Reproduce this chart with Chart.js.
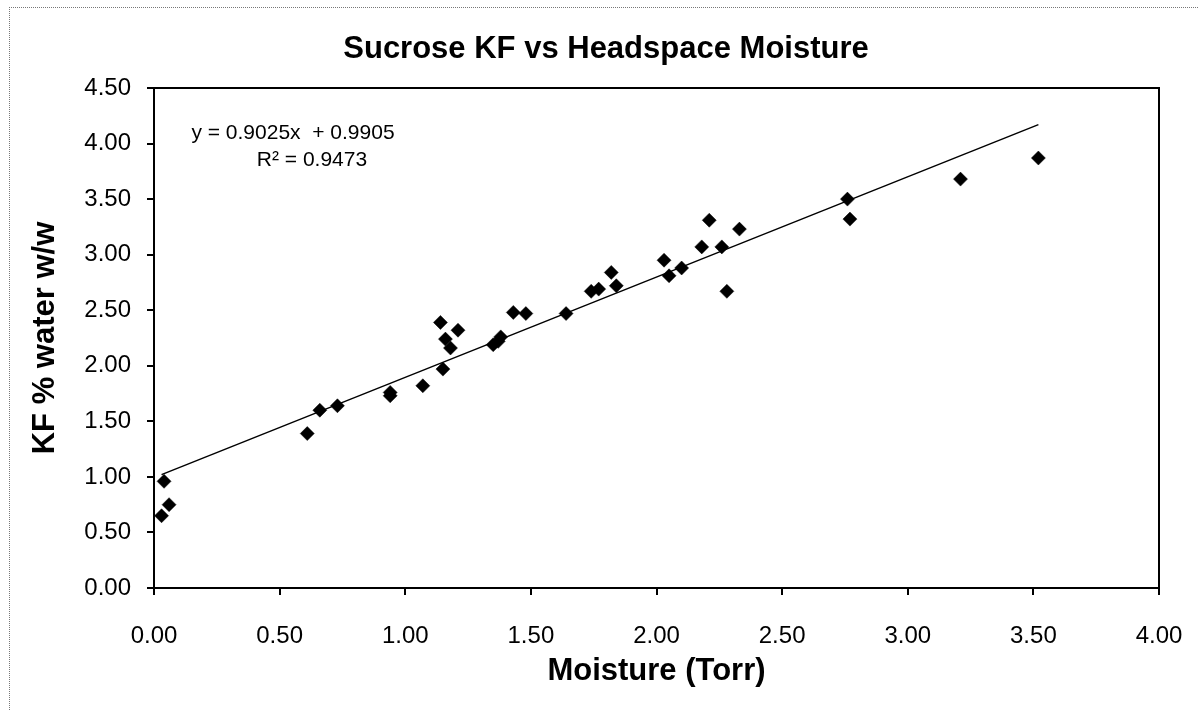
<!DOCTYPE html>
<html>
<head>
<meta charset="utf-8">
<script src="https://cdn.jsdelivr.net/npm/chart.js@4"></script>
<style>
  html, body { margin: 0; padding: 0; background: #fff; overflow: hidden; }
  #frame {
    position: absolute; left: 9px; top: 7px; width: 1300px; height: 800px;
    border-left: 1px dotted #777; border-top: 1px dotted #777;
  }
  #wrap { position: absolute; left: 0; top: 0; width: 1198px; height: 711px; }
</style>
</head>
<body>
<div id="frame"></div>
<div id="wrap"><canvas id="grafica"></canvas></div>
<script>
/* datos */
const moisture = [0.03, 0.04, 0.06, 0.61, 0.66, 0.73, 0.94, 0.94, 1.07, 1.15,
                  1.14, 1.16, 1.18, 1.21, 1.35, 1.37, 1.38, 1.43, 1.48, 1.64,
                  1.74, 1.77, 1.82, 1.84, 2.03, 2.05, 2.10, 2.18, 2.21, 2.26,
                  2.28, 2.33, 2.76, 2.77, 3.21, 3.52];
const kfWater  = [0.65, 0.96, 0.75, 1.39, 1.60, 1.64, 1.76, 1.73, 1.82, 1.97,
                  2.39, 2.24, 2.16, 2.32, 2.19, 2.22, 2.26, 2.48, 2.47, 2.47,
                  2.67, 2.69, 2.84, 2.72, 2.95, 2.81, 2.88, 3.07, 3.31, 3.07,
                  2.67, 3.23, 3.50, 3.32, 3.68, 3.87];
const trendX = [0.03, 3.52];
const trendY = [1.02, 4.17];
const xTicks = [0, 0.5, 1, 1.5, 2, 2.5, 3, 3.5, 4];
const yTicks = [0, 0.5, 1, 1.5, 2, 2.5, 3, 3.5, 4, 4.5];
const chartTitle = 'Sucrose KF vs Headspace Moisture';
const equationLines = ['y = 0.9025x  + 0.9905', 'R\u00b2 = 0.9473'];

const FONT = '"Liberation Sans", Arial, sans-serif';

// título, marco negro del área de trazado y ecuación
const marco = {
    id: 'marco',
    afterDraw(chart) {
        const { ctx, chartArea: a } = chart;
        ctx.save();
        ctx.strokeStyle = '#000';
        ctx.lineWidth = 2;
        ctx.beginPath();
        ctx.moveTo(a.left, a.top);
        ctx.lineTo(a.right, a.top);
        ctx.lineTo(a.right, a.bottom);
        ctx.stroke();

        ctx.fillStyle = '#000';
        ctx.textAlign = 'center';
        ctx.textBaseline = 'middle';
        ctx.font = 'bold 31px ' + FONT;
        ctx.fillText(chartTitle, 606, 49);

        ctx.font = '21px ' + FONT;
        ctx.fillText(equationLines[0], 293, 133);
        ctx.fillText(equationLines[1], 312, 160);
        ctx.restore();
    }
};

new Chart(document.getElementById('grafica'), {
    type: 'scatter',
    data: {
        datasets: [{
            label: 'KF',
            data: moisture.map((x, i) => ({ x: x, y: kfWater[i] })),
            pointStyle: 'rectRot',
            pointRadius: 7,
            pointBackgroundColor: '#000',
            pointBorderColor: '#000',
            pointBorderWidth: 0.5,
            showLine: false,
            order: 1
        }, {
            label: 'Lineal',
            type: 'line',
            data: trendX.map((x, i) => ({ x: x, y: trendY[i] })),
            borderColor: '#000',
            borderWidth: 1.5,
            pointRadius: 0,
            fill: false,
            order: 2
        }]
    },
    options: {
        responsive: true,
        maintainAspectRatio: false,
        animation: false,
        layout: { padding: { left: 0, right: 39, top: 88, bottom: 0 } },
        plugins: {
            legend: { display: false },
            tooltip: { enabled: false },
            title: { display: false }
        },
        scales: {
            x: {
                type: 'linear',
                min: 0, max: 4,
                afterBuildTicks: axis => { axis.ticks = xTicks.map(v => ({ value: v })); },
                afterFit: axis => {
                    axis.height = 123;
                    axis.paddingLeft = 0;
                    axis.paddingRight = 0;
                },
                grid: { drawOnChartArea: false, drawTicks: true, tickLength: 7, color: '#000', lineWidth: 2 },
                border: { display: true, color: '#000', width: 2 },
                ticks: {
                    color: '#000', padding: 27,
                    font: { family: FONT, size: 24 },
                    callback: v => Number(v).toFixed(2)
                },
                title: {
                    display: true, text: 'Moisture (Torr)', color: '#000',
                    font: { family: FONT, size: 31, weight: 'bold' },
                    padding: 21
                }
            },
            y: {
                type: 'linear',
                min: 0, max: 4.5,
                afterBuildTicks: axis => { axis.ticks = yTicks.map(v => ({ value: v })); },
                afterFit: axis => {
                    axis.width = 154;
                    axis.paddingTop = 0;
                    axis.paddingBottom = 0;
                },
                grid: { drawOnChartArea: false, drawTicks: true, tickLength: 7, color: '#000', lineWidth: 2 },
                border: { display: true, color: '#000', width: 2 },
                ticks: {
                    color: '#000', padding: 16,
                    font: { family: FONT, size: 24 },
                    callback: v => Number(v).toFixed(2)
                },
                title: {
                    display: true, text: 'KF % water w/w', color: '#000',
                    font: { family: FONT, size: 31, weight: 'bold' },
                    padding: 27
                }
            }
        }
    },
    plugins: [marco]
});
</script>
</body>
</html>
